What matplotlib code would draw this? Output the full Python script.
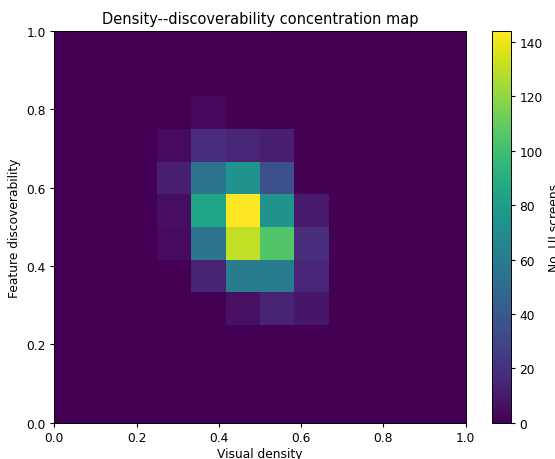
import numpy as np
import matplotlib
matplotlib.use("Agg")
import matplotlib.pyplot as plt

# 12x12 bins, rows = feature discoverability (bottom to top), cols = visual density
x_edges = np.linspace(0, 1, 13)
y_edges = np.linspace(0, 1, 13)

counts = np.zeros((12, 12))
# row 3: 0.25-0.333
counts[3, 5:8] = [6, 14, 8]
# row 4: 0.333-0.417
counts[4, 4:8] = [14, 60, 60, 15]
# row 5: 0.417-0.5
counts[5, 3:8] = [4, 55, 130, 105, 18]
# row 6: 0.5-0.583
counts[6, 3:8] = [5, 84, 144, 74, 10]
# row 7: 0.583-0.667
counts[7, 3:7] = [12, 55, 74, 35]
# row 8: 0.667-0.75
counts[8, 3:7] = [4, 18, 15, 12]
# row 9: 0.75-0.833
counts[9, 4] = 3

s = 0.88
plt.rcParams["font.size"] = 10 * s
plt.rcParams["axes.titlesize"] = 12 * s
plt.rcParams["xtick.major.size"] = 3.5 * s
plt.rcParams["ytick.major.size"] = 3.5 * s
plt.rcParams["xtick.major.pad"] = 3.5 * s
plt.rcParams["ytick.major.pad"] = 3.5 * s
plt.rcParams["axes.linewidth"] = 0.8 * s

fig = plt.figure(figsize=(5.55, 4.6), dpi=100)
ax = fig.add_axes([0.098, 0.079, 0.741, 0.851])
cax = fig.add_axes([0.8865, 0.079, 0.034, 0.851])

mesh = ax.pcolormesh(x_edges, y_edges, counts, cmap="viridis", vmin=0, vmax=counts.max())
ax.set_xlim(0, 1)
ax.set_ylim(0, 1)
ax.set_xlabel("Visual density", labelpad=2)
ax.set_ylabel("Feature discoverability")
ax.set_title("Density--discoverability concentration map")

cb = fig.colorbar(mesh, cax=cax)
cb.set_label("No. UI screens")

plt.savefig("out.png", dpi=100)
